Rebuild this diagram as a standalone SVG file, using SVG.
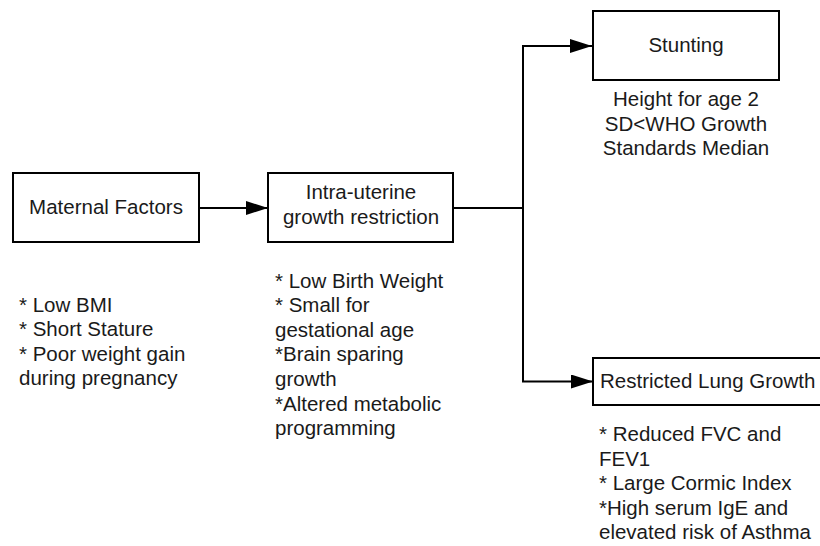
<svg xmlns="http://www.w3.org/2000/svg" width="820" height="546" viewBox="0 0 820 546">
<style>
.box{fill:#fff;stroke:#000;stroke-width:2}
.t{font-family:"Liberation Sans",Arial,sans-serif;font-size:20.5px;fill:#1a1a1a}
.c{text-anchor:middle}
.ln{fill:none;stroke:#000;stroke-width:2}
</style>
<defs>
<marker id="ah" markerUnits="userSpaceOnUse" markerWidth="22" markerHeight="14" refX="22" refY="7" orient="auto">
<path d="M0,0 L22,7 L0,14 Z" fill="#000"/>
</marker>
</defs>
<rect width="820" height="546" fill="#fff"/>
<g id="connectors">
<line class="ln" x1="199" y1="208" x2="268" y2="208" marker-end="url(#ah)"/>
<polyline class="ln" points="453,208 523,208"/>
<polyline class="ln" points="523,381.5 523,46 592,46" marker-end="url(#ah)"/>
<polyline class="ln" points="523,208 523,381.5 593,381.5" marker-end="url(#ah)"/>
</g>
<g id="maternal">
<rect class="box" x="13" y="173" width="186" height="69"/>
<text class="t c" x="106" y="214">Maternal Factors</text>
</g>
<g id="maternal-notes">
<text class="t" x="19" y="311.5">* Low BMI</text>
<text class="t" x="19" y="336">* Short Stature</text>
<text class="t" x="19" y="360.5">* Poor weight gain</text>
<text class="t" x="19" y="385">during pregnancy</text>
</g>
<g id="iugr">
<rect class="box" x="268" y="173" width="185" height="69"/>
<text class="t c" x="361" y="199">Intra-uterine</text>
<text class="t c" x="361" y="224">growth restriction</text>
</g>
<g id="iugr-notes">
<text class="t" x="275" y="287.5">* Low Birth Weight</text>
<text class="t" x="275" y="312">* Small for</text>
<text class="t" x="275" y="336.5">gestational age</text>
<text class="t" x="275" y="361">*Brain sparing</text>
<text class="t" x="275" y="385.5">growth</text>
<text class="t" x="275" y="410.5">*Altered metabolic</text>
<text class="t" x="275" y="435">programming</text>
</g>
<g id="stunting">
<rect class="box" x="593" y="11" width="186" height="69"/>
<text class="t c" x="686" y="52">Stunting</text>
</g>
<g id="stunting-notes">
<text class="t c" x="686" y="106">Height for age 2</text>
<text class="t c" x="686" y="130.5">SD&lt;WHO Growth</text>
<text class="t c" x="686" y="155">Standards Median</text>
</g>
<g id="lung">
<rect class="box" x="593" y="358" width="240" height="47"/>
<text class="t" x="600" y="388">Restricted Lung Growth</text>
</g>
<g id="lung-notes">
<text class="t" x="599" y="441">* Reduced FVC and</text>
<text class="t" x="599" y="465.5">FEV1</text>
<text class="t" x="599" y="490">* Large Cormic Index</text>
<text class="t" x="599" y="514.5">*High serum IgE and</text>
<text class="t" x="599" y="539">elevated risk of Asthma</text>
</g>
</svg>
